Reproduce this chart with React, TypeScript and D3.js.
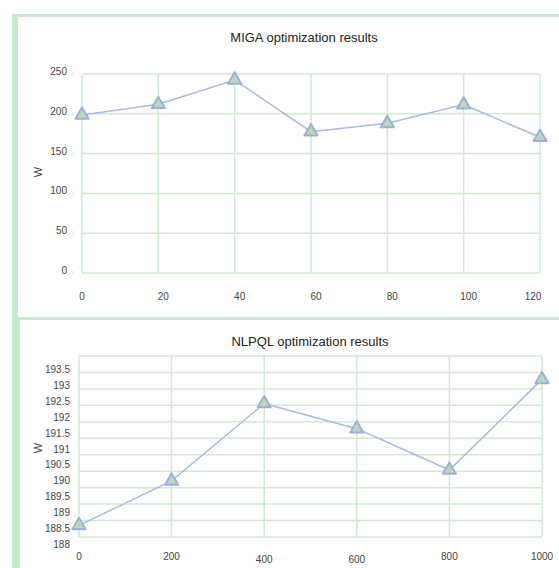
import React from "react";
import * as d3 from "d3";

const migaX = [0, 20, 40, 60, 80, 100, 120];
const migaW = [198.5, 212, 242.5, 177.5, 188, 211.5, 170.5];
const migaXTicks = [0, 20, 40, 60, 80, 100, 120];
const migaYTicks = [0, 50, 100, 150, 200, 250];

const nlpqlX = [0, 200, 400, 600, 800, 1000];
const nlpqlW = [188.6, 190.0, 192.43, 191.64, 190.34, 193.19];
const nlpqlXTicks = [0, 200, 400, 600, 800, 1000];
const nlpqlYTicks = [188, 188.5, 189, 189.5, 190, 190.5, 191, 191.5, 192, 192.5, 193, 193.5];

const GRID = "#cdebd0";
const FRAME = "#c9e7cd";
const LINE = "#a9b8e4";
const MSTROKE = "#9dafe0";
const MFILL = "#b9dab6";
const FONT = "'Liberation Sans', Arial, sans-serif";

function Markers({ xs, ys, x, y }: any) {
  const tri = d3.symbol().type(d3.symbolTriangle).size(75)();
  return (
    <g>
      {xs.map((xv: number, i: number) => (
        <path
          key={i}
          d={tri as string}
          transform={`translate(${x(xv)},${y(ys[i])})`}
          fill={MFILL}
          stroke={MSTROKE}
          strokeWidth={2}
          strokeLinejoin="round"
        />
      ))}
    </g>
  );
}

export default function App() {
  // Top panel (MIGA)
  const x1 = d3.scaleLinear().domain([0, 120]).range([82, 540]);
  const y1 = d3.scaleLinear().domain([0, 250]).range([273, 74]);
  const line1 = d3
    .line<number>()
    .x((_, i) => x1(migaX[i]))
    .y((d) => y1(d));

  // Bottom panel (NLPQL)
  const x2 = d3.scaleLinear().domain([0, 1000]).range([79, 542]);
  const y2 = d3.scaleLinear().domain([188, 193.5]).range([544.5, 369.5]);
  const g2 = d3.scaleLinear().domain([188, 193.5]).range([537, 356]);
  const line2 = d3
    .line<number>()
    .x((_, i) => x2(nlpqlX[i]))
    .y((d) => y2(d));

  return (
    <svg
      width={559}
      height={568}
      style={{ position: "absolute", left: 0, top: 0, background: "#fff" }}
      fontFamily={FONT}
    >
      {/* frames */}
      <rect x={12} y={14} width={547} height={3} fill={FRAME} />
      <rect x={12} y={14} width={6} height={554} fill={FRAME} />
      <rect x={18} y={317} width={541} height={3} fill={FRAME} />
      <rect x={12} y={317} width={8} height={251} fill={FRAME} />

      {/* ---------- MIGA ---------- */}
      <text x={304} y={42} fontSize={13} textAnchor="middle" fill="#222">
        MIGA optimization results
      </text>
      {migaYTicks.map((t) => (
        <g key={"y1" + t}>
          <line x1={x1(0)} x2={x1(120)} y1={y1(t)} y2={y1(t)} stroke={GRID} strokeWidth={1.5} />
          <line x1={73} x2={73} y1={y1(t) - 2} y2={y1(t) + 2} stroke="#ddd" strokeWidth={1} />
          <text x={67} y={y1(t)} dy="0.1em" fontSize={10} textAnchor="end" fill="#444">
            {t}
          </text>
        </g>
      ))}
      {migaXTicks.map((t) => (
        <g key={"x1" + t}>
          <line x1={x1(t)} x2={x1(t)} y1={y1(0)} y2={y1(250)} stroke={GRID} strokeWidth={1.5} />
          <text x={x1(t) + (t === 0 ? 0 : t === 120 ? -7 : 5)} y={300} fontSize={10} textAnchor="middle" fill="#444">
            {t}
          </text>
        </g>
      ))}
      <text
        transform={`translate(42,172) rotate(-90)`}
        fontSize={11}
        textAnchor="middle"
        fill="#444"
      >
        W
      </text>
      <path d={line1(migaW) as string} fill="none" stroke={LINE} strokeWidth={1.5} />
      <Markers xs={migaX} ys={migaW} x={x1} y={y1} />

      {/* ---------- NLPQL ---------- */}
      <text x={310} y={346} fontSize={13} textAnchor="middle" fill="#222">
        NLPQL optimization results
      </text>
      {nlpqlYTicks.map((t) => (
        <g key={"y2" + t}>
          <line x1={x2(0)} x2={x2(1000)} y1={g2(t)} y2={g2(t)} stroke={GRID} strokeWidth={1.5} />
          <text x={70} y={y2(t)} dy="0.35em" fontSize={10} textAnchor="end" fill="#444">
            {t}
          </text>
        </g>
      ))}
      {nlpqlXTicks.map((t) => (
        <g key={"x2" + t}>
          <line x1={x2(t)} x2={x2(t)} y1={g2(188)} y2={g2(193.5)} stroke={GRID} strokeWidth={1.5} />
          <text x={x2(t)} y={t === 400 || t === 600 ? 563 : 560} fontSize={10} textAnchor="middle" fill="#444">
            {t}
          </text>
        </g>
      ))}
      <text
        transform={`translate(42,448) rotate(-90)`}
        fontSize={11}
        textAnchor="middle"
        fill="#444"
      >
        W
      </text>
      <path d={line2(nlpqlW) as string} fill="none" stroke={LINE} strokeWidth={1.5} />
      <Markers xs={nlpqlX} ys={nlpqlW} x={x2} y={y2} />
    </svg>
  );
}
